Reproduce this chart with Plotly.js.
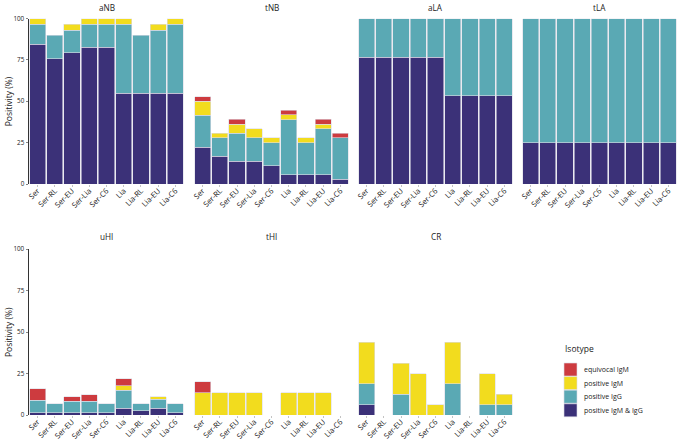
<!DOCTYPE html>
<html>
<head>
<meta charset="utf-8">
<script src="https://cdn.plot.ly/plotly-3.0.1.min.js"></script>
<style>html,body{margin:0;padding:0;background:#fff}#chart{width:677px;height:440px}</style>
</head>
<body>
<div id="chart"></div>
<script>
// Categories (x tick labels)
const categories = ['Ser','Ser-RL','Ser-EU','Ser-Lia','Ser-C6','Lia','Lia-RL','Lia-EU','Lia-C6'];
// Panels
const panels = ['aNB','tNB','aLA','tLA','uHI','tHI','CR'];
// Series (stack order bottom -> top)
const seriesNames = ['positive IgM & IgG','positive IgG','positive IgM','equivocal IgM'];
const seriesColors = ['#3b3178','#5aa9b4','#f2dc1e','#cd3b3f'];
// Legend order (top -> bottom)
const legendOrder = ['equivocal IgM','positive IgM','positive IgG','positive IgM & IgG'];

// Values (% positivity), one array per panel and isotype
const aNB_IgMIgG = [84.4, 75.7, 79.3, 82.5, 82.5, 54.8, 54.8, 54.8, 54.8];
const aNB_IgG    = [12.0, 14.1, 13.7, 13.9, 13.9, 41.6, 35.0, 38.2, 41.6];
const aNB_IgM    = [3.6, 0, 3.6, 3.6, 3.6, 3.6, 0, 3.6, 3.6];
const aNB_Equiv  = [0, 0, 0, 0, 0, 0, 0, 0, 0];

const tNB_IgMIgG = [22.2, 16.7, 13.9, 13.9, 11.1, 5.6, 5.6, 5.6, 2.8];
const tNB_IgG    = [19.4, 11.1, 16.7, 13.9, 13.9, 33.3, 19.4, 27.8, 25.0];
const tNB_IgM    = [8.3, 2.8, 5.6, 5.6, 2.8, 2.8, 2.8, 2.8, 0];
const tNB_Equiv  = [2.8, 0, 2.8, 0, 0, 2.8, 0, 2.8, 2.8];

const aLA_IgMIgG = [76.7, 76.7, 76.7, 76.7, 76.7, 53.3, 53.3, 53.3, 53.3];
const aLA_IgG    = [23.3, 23.3, 23.3, 23.3, 23.3, 46.7, 46.7, 46.7, 46.7];
const aLA_IgM    = [0, 0, 0, 0, 0, 0, 0, 0, 0];
const aLA_Equiv  = [0, 0, 0, 0, 0, 0, 0, 0, 0];

const tLA_IgMIgG = [25, 25, 25, 25, 25, 25, 25, 25, 25];
const tLA_IgG    = [75, 75, 75, 75, 75, 75, 75, 75, 75];
const tLA_IgM    = [0, 0, 0, 0, 0, 0, 0, 0, 0];
const tLA_Equiv  = [0, 0, 0, 0, 0, 0, 0, 0, 0];

const uHI_IgMIgG = [1.4, 1.4, 1.4, 1.4, 1.4, 4.1, 2.7, 4.1, 1.4];
const uHI_IgG    = [7.5, 5.4, 6.8, 6.8, 5.4, 10.8, 4.1, 5.4, 5.4];
const uHI_IgM    = [0, 0, 0, 0, 0, 2.7, 0, 1.4, 0];
const uHI_Equiv  = [6.8, 0, 2.7, 4.1, 0, 4.1, 0, 0, 0];

const tHI_IgMIgG = [0, 0, 0, 0, 0, 0, 0, 0, 0];
const tHI_IgG    = [0, 0, 0, 0, 0, 0, 0, 0, 0];
const tHI_IgM    = [13.3, 13.3, 13.3, 13.3, 0, 13.3, 13.3, 13.3, 0];
const tHI_Equiv  = [6.7, 0, 0, 0, 0, 0, 0, 0, 0];

const CR_IgMIgG  = [6.25, 0, 0, 0, 0, 0, 0, 0, 0];
const CR_IgG     = [12.5, 0, 12.5, 0, 0, 18.75, 0, 6.25, 6.25];
const CR_IgM     = [25, 0, 18.75, 25, 6.25, 25, 0, 18.75, 6.25];
const CR_Equiv   = [0, 0, 0, 0, 0, 0, 0, 0, 0];

const yTicks = [0, 25, 50, 75, 100];

const panelData = {
  aNB: [aNB_IgMIgG, aNB_IgG, aNB_IgM, aNB_Equiv],
  tNB: [tNB_IgMIgG, tNB_IgG, tNB_IgM, tNB_Equiv],
  aLA: [aLA_IgMIgG, aLA_IgG, aLA_IgM, aLA_Equiv],
  tLA: [tLA_IgMIgG, tLA_IgG, tLA_IgM, tLA_Equiv],
  uHI: [uHI_IgMIgG, uHI_IgG, uHI_IgM, uHI_Equiv],
  tHI: [tHI_IgMIgG, tHI_IgG, tHI_IgM, tHI_Equiv],
  CR:  [CR_IgMIgG, CR_IgG, CR_IgM, CR_Equiv]
};

const W = 677, H = 440;
const colPx = [[29,184],[194,349],[358,513],[522,677]];
const rowPx = [[18.5,184],[249,415]];
const titleOffset = [11, 13];
const FONT = '"Open Sans", Lato, sans-serif';

const traces = [];
const layout = {
  width: W, height: H,
  margin: {l:0, r:0, t:0, b:0},
  paper_bgcolor: '#fff', plot_bgcolor: '#fff',
  barmode: 'stack', bargap: 0.06,
  showlegend: false,
  font: {family: FONT, color: '#222'},
  annotations: [], shapes: []
};

panels.forEach((p, i) => {
  const row = i < 4 ? 0 : 1;
  const col = i < 4 ? i : i - 4;
  const n = i + 1;
  const xa = 'xaxis' + (n === 1 ? '' : n), ya = 'yaxis' + (n === 1 ? '' : n);
  const xr = 'x' + (n === 1 ? '' : n), yr = 'y' + (n === 1 ? '' : n);
  const xd = [colPx[col][0] / W, colPx[col][1] / W];
  const yd = [1 - rowPx[row][1] / H, 1 - rowPx[row][0] / H];
  layout[xa] = {
    domain: xd, anchor: yr, type: 'category', categoryorder: 'array', categoryarray: categories,
    tickangle: -45, ticks: 'outside', ticklen: 1.5, tickwidth: 0.5, tickcolor: '#888',
    ticklabelstandoff: -3,
    tickfont: {size: 7.6, color: '#222', family: FONT}, showline: false, showgrid: false, zeroline: false,
    fixedrange: true
  };
  layout[ya] = {
    domain: yd, anchor: xr, range: [0, 100], tickvals: yTicks, ticktext: yTicks.map(String),
    showgrid: false, zeroline: false, fixedrange: true
  };
  if (col === 0) {
    Object.assign(layout[ya], {
      showline: true, linecolor: '#333', linewidth: 1,
      ticks: 'outside', ticklen: 2.5, tickwidth: 0.6, tickcolor: '#333',
      tickfont: {size: 6.3, color: '#222', family: FONT}, showticklabels: true
    });
    layout.annotations.push({
      xref: 'paper', yref: 'paper', x: 8 / W, y: (yd[0] + yd[1]) / 2,
      text: 'Positivity (%)', showarrow: false, textangle: -90,
      font: {size: 8.5, family: FONT, color: '#222'}, xanchor: 'center', yanchor: 'middle'
    });
  } else {
    Object.assign(layout[ya], {showline: false, ticks: '', showticklabels: false});
  }
  layout.annotations.push({
    xref: 'paper', yref: 'paper', x: (xd[0] + xd[1]) / 2, y: 1 - (rowPx[row][0] - titleOffset[row]) / H,
    text: p, showarrow: false, xanchor: 'center', yanchor: 'middle',
    font: {size: 8.2, family: FONT, color: '#222'}
  });
  panelData[p].forEach((vals, s) => {
    traces.push({
      type: 'bar', x: categories, y: vals.map(v => v === 0 ? null : v),
      xaxis: xr, yaxis: yr, name: seriesNames[s],
      marker: {color: seriesColors[s], line: {color: '#dcdce6', width: 0.6}},
      hoverinfo: 'x+y+name'
    });
  });
});

// Legend (drawn in paper space)
layout.annotations.push({
  xref: 'paper', yref: 'paper', x: 563 / W, y: 1 - 348 / H, text: 'Isotype',
  showarrow: false, xanchor: 'left', yanchor: 'middle', font: {size: 8.5, family: FONT, color: '#222'}
});
legendOrder.forEach((name, k) => {
  const cy = 369.5 + k * 13.6;
  const c = seriesColors[seriesNames.indexOf(name)];
  layout.shapes.push({
    type: 'rect', xref: 'paper', yref: 'paper',
    x0: 564 / W, x1: 577 / W, y0: 1 - (cy + 6.5) / H, y1: 1 - (cy - 6.5) / H,
    fillcolor: c, line: {color: '#dcdce6', width: 0.6}
  });
  layout.annotations.push({
    xref: 'paper', yref: 'paper', x: 582 / W, y: 1 - cy / H, text: name,
    showarrow: false, xanchor: 'left', yanchor: 'middle', font: {size: 7, family: FONT, color: '#222'}
  });
});

Plotly.newPlot('chart', traces, layout, {staticPlot: true, displayModeBar: false});
</script>
</body>
</html>
